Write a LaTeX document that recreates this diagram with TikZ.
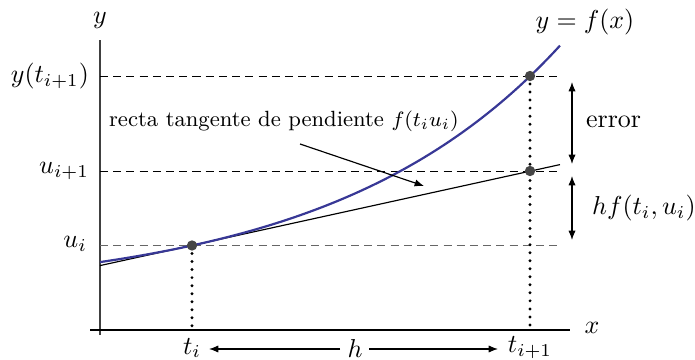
\documentclass[tikz,border=0pt]{standalone}
\usetikzlibrary{arrows.meta}
\definecolor{curveblue}{RGB}{56,56,150}
\definecolor{dotgray}{RGB}{70,70,70}
\tikzset{
  guide/.style={dash pattern=on 3.1pt off 2pt, line width=0.35pt},
  guidegray/.style={dash pattern=on 3.1pt off 2pt, line width=0.6pt, black!60},
  drop/.style={line width=1.25pt, dash pattern=on 0pt off 3.1pt, line cap=round},
  pt/.style={circle, fill=dotgray, inner sep=0pt, minimum size=4pt},
  dimarrow/.style={{Latex[length=3.6pt,width=2.8pt]}-{Latex[length=3.6pt,width=2.8pt]}, line width=0.45pt},
  harrow/.style={-{Latex[length=3.6pt,width=2.8pt]}, line width=0.45pt},
  lbl/.style={inner sep=1pt}
}
\begin{document}
\begin{tikzpicture}[x=0.386pt, y=-0.386pt]
\useasboundingbox (0,0) rectangle (695,360);
% axes
\coordinate (yb) at (100,335);
\coordinate (yt) at (100,40);
\coordinate (xl) at (90,330);
\coordinate (xr) at (570,330);
\draw[line width=0.5pt, black!75] (yb) -- (yt);
\draw[line width=0.45pt] (xl) -- (xr);
\node[lbl] (ylab) at (100,20) {$y$};
\node[lbl] (xlab) at (592,328) {$x$};
% key points
\coordinate (Pi) at (192,245.5);
\coordinate (Py) at (530,76);
\coordinate (Pu) at (530,171);
\coordinate (ti) at (192,330);
\coordinate (ti1) at (530,330);
% guide lines
\coordinate (gy0) at (100,76);  \coordinate (gy1) at (560,76);
\coordinate (gu0) at (100,171); \coordinate (gu1) at (560,171);
\coordinate (gi0) at (100,245.5); \coordinate (gi1) at (560,245.5);
\draw[guide] (gy0) -- (gy1);
\draw[guide] (gu0) -- (gu1);
\draw[guidegray] (gi0) -- (gi1);
% drop lines
\draw[drop] (Pi) -- (ti);
\draw[drop] (Py) -- (ti1);
% tangent line
\coordinate (tl0) at (100,265.6);
\coordinate (tl1) at (560,164.6);
\draw[line width=0.45pt] (tl0) -- (tl1);
% curve
\draw[curveblue, line width=0.85pt] plot[domain=100:560, samples=80, smooth] (\x, {245.5-50.2*(exp(0.00436*(\x-192))-1)});
% points on top
\node[pt] (dPi) at (Pi) {};
\node[pt] (dPy) at (Py) {};
\node[pt] (dPu) at (Pu) {};
% left labels
\node[lbl, anchor=east] (lyt) at (92,76) {$y(t_{i+1})$};
\node[lbl, anchor=east] (lui1) at (92,171) {$u_{i+1}$};
\node[lbl, anchor=east] (lui) at (90,244) {$u_i$};
% top label
\node[lbl] (fx) at (585,22) {$y=f(x)$};
% tangent label
\node[lbl, anchor=west, font=\fontsize{8.5}{10}\selectfont] (tang) at (106,121) {recta tangente de pendiente $f(t_iu_i)$};
\coordinate (ta0) at (300,144);
\coordinate (ta1) at (424,186);
\draw[harrow] (ta0) -- (ta1);
% right dimension arrows
\coordinate (e0) at (572,82);  \coordinate (e1) at (572,164);
\coordinate (h0) at (572,176); \coordinate (h1) at (572,240);
\draw[dimarrow] (e0) -- (e1);
\draw[dimarrow] (h0) -- (h1);
\node[lbl, anchor=west] (err) at (583,122) {error};
\node[lbl, anchor=west] (hf) at (589,208) {$hf(t_i,u_i)$};
% bottom labels
\node[lbl] (tilab) at (192,348) {$t_i$};
\node[lbl] (ti1lab) at (530,348) {$t_{i+1}$};
\node[lbl] (hlab) at (355,349) {$h$};
\coordinate (hl0) at (340,349); \coordinate (hl1) at (209,349);
\coordinate (hr0) at (369,349); \coordinate (hr1) at (498,349);
\draw[harrow] (hl0) -- (hl1);
\draw[harrow] (hr0) -- (hr1);
\end{tikzpicture}
\end{document}
